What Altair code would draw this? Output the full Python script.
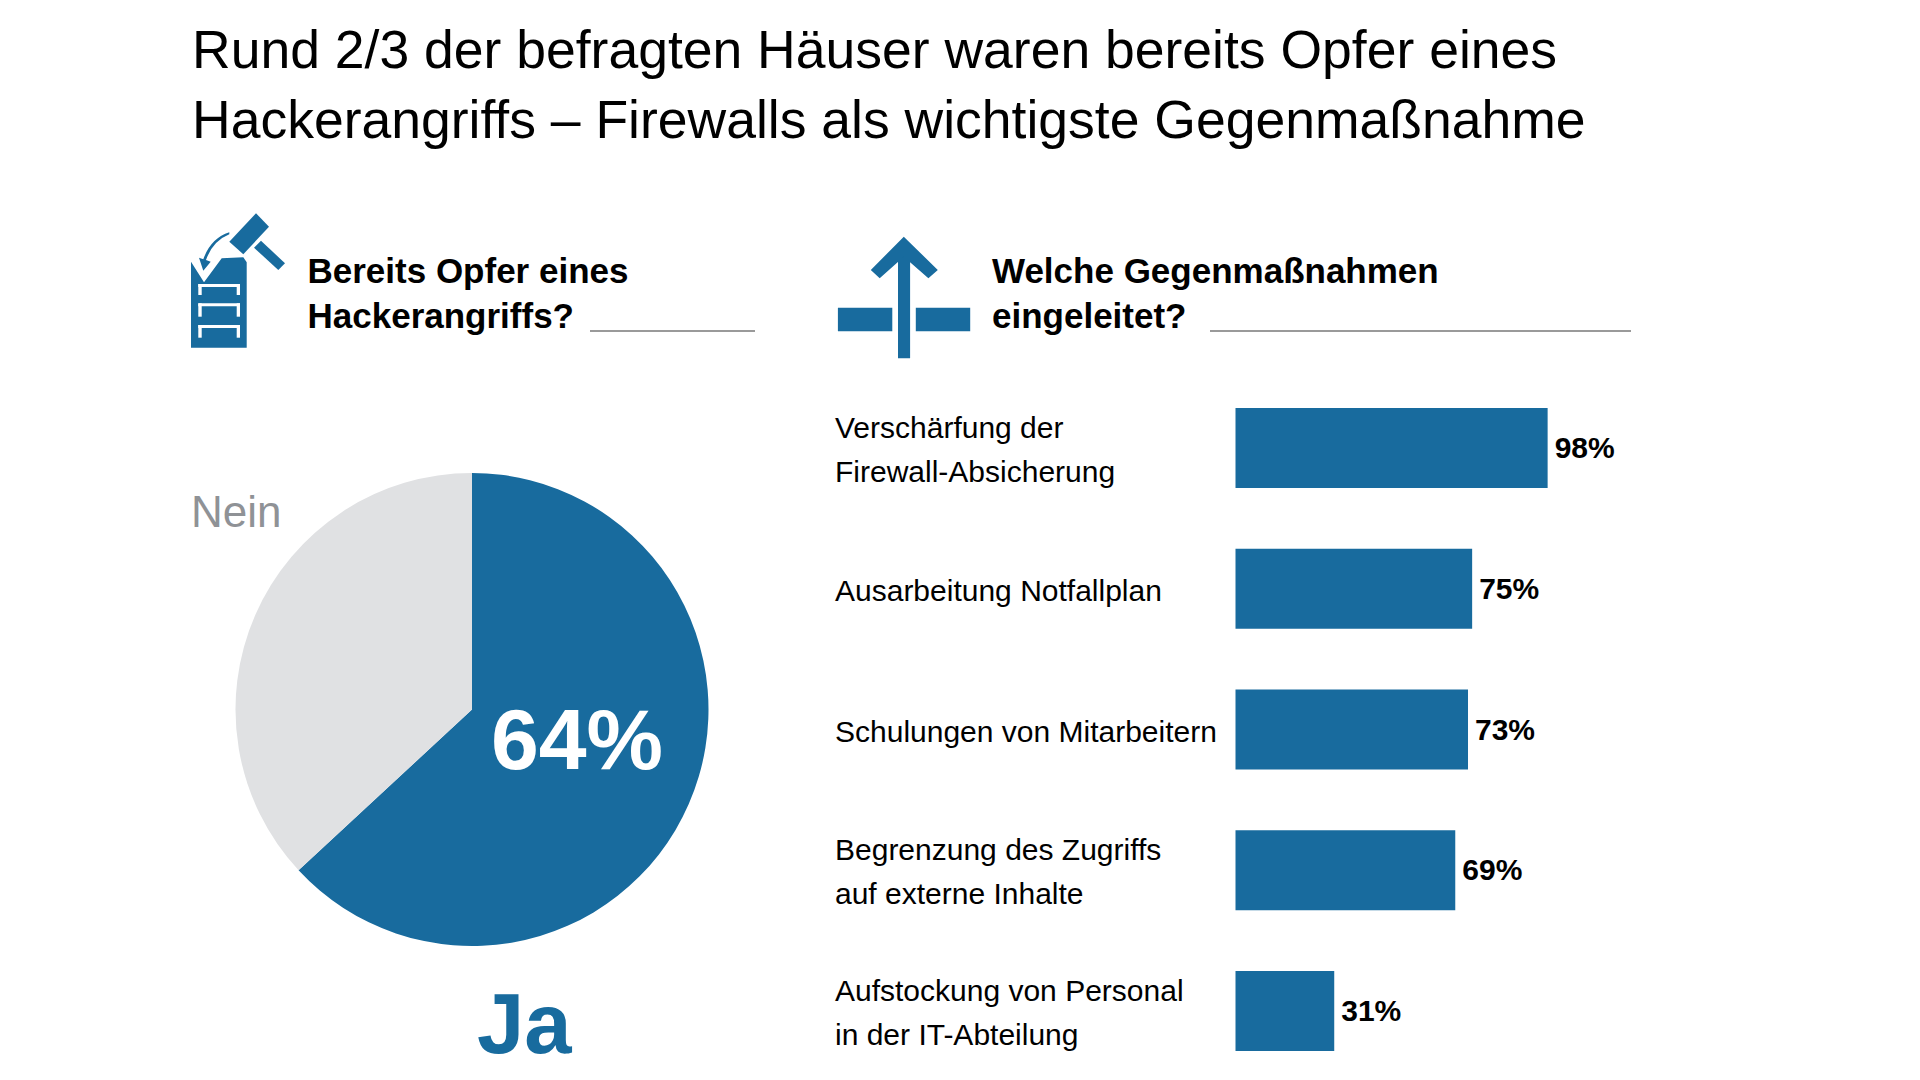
import altair as alt
import pandas as pd

BLUE = "#186B9E"
GREY = "#E0E1E3"
FONT = "Liberation Sans"

title_lines = ["Rund 2/3 der befragten Häuser waren bereits Opfer eines",
               "Hackerangriffs – Firewalls als wichtigste Gegenmaßnahme"]
pie_labels = ["Ja", "Nein"]
pie_values = [63.1, 36.9]
cat_line1 = ["Verschärfung der", "Ausarbeitung Notfallplan", "Schulungen von Mitarbeitern",
             "Begrenzung des Zugriffs", "Aufstockung von Personal"]
cat_line2 = ["Firewall-Absicherung", "", "", "auf externe Inhalte", "in der IT-Abteilung"]
values = [98, 74.3, 73, 69, 31]
value_labels = ["98%", "75%", "73%", "69%", "31%"]
left_head = "Bereits Opfer eines\nHackerangriffs?"
right_head = "Welche Gegenmaßnahmen\neingeleitet?"

M = 8
def text(s, x, y, size, color="black", bold=False, align="left", line=44, baseline="alphabetic"):
    return alt.Chart(pd.DataFrame({"t": [s]})).mark_text(
        font=FONT, fontSize=size, color=color, align=align, baseline=baseline,
        fontWeight="bold" if bold else "normal", lineBreak="\n", lineHeight=line
    ).encode(x=alt.value(x - M), y=alt.value(y - M), text="t:N")

def p(a, b):
    return f"{180 + a / 3:.1f},{205 + b / 3:.1f}"

def pth(pts):
    return "M" + "L".join(p(a, b) for a, b in pts) + "Z"

def pth2(a, b):
    return "M" + "L".join(f"{170 + x / 1.912:.1f},{190 + y / 3:.1f}" for x, y in zip(a, b)) + "Z"

def shape(d, fill=BLUE):
    return alt.Chart(pd.DataFrame({"a": [0]})).mark_point(shape=d, fill=fill, filled=True, size=4, opacity=1).encode(
        x=alt.value(-M), y=alt.value(-M))

arrow = ("M" + p(148, 82) + "Q" + p(92, 100) + " " + p(70, 163) + "L" + p(57, 158) + "L" + p(70, 197)
         + "L" + p(92, 170) + "L" + p(78, 165) + "Q" + p(98, 108) + " " + p(148, 88) + "Z")
icons = [
    pth([(33,170),(72,232),(125,160),(190,157),(200,172),(200,428),(33,428)]),
    pth([(228,25),(267,65),(190,148),(148,110)]),
    pth([(243,107),(315,175),(295,195),(222,128)]),
    arrow,
    pth2([1392,1392,1415,1415], [170,505,505,170]),
    pth2([1403,1468,1450,1403,1357,1340], [140,240,265,200,265,240]),
    pth2([1277,1381,1381,1277], [353,353,424,424]),
    pth2([1426,1530,1530,1426], [353,353,424,424]),
]
ladders = []
for top, bot in [(237, 270), (295, 335), (360, 398)]:
    ladders += [pth([(55,top),(180,top),(180,top+9),(55,top+9)]),
                pth([(55,top),(65,top),(65,bot),(55,bot)]),
                pth([(170,top),(180,top),(180,bot),(170,bot)])]

pie = alt.Chart(pd.DataFrame({"l": pie_labels, "v": pie_values, "o": [0, 1]})).mark_arc(outerRadius=236.5).encode(
    x=alt.value(472 - M), y=alt.value(709.5 - M),
    theta=alt.Theta("v:Q", stack=True, scale=alt.Scale(domain=[0, 100])),
    order=alt.Order("o:Q"),
    color=alt.Color("l:N", legend=None, scale=alt.Scale(domain=pie_labels, range=[BLUE, GREY])),
)

df = pd.DataFrame({"c": cat_line1, "c2": cat_line2, "v": values, "t": value_labels})
xs = alt.Scale(domain=[0, 100], range=[1235.5 - M, 1235.5 + 318.5 - M])
ys = alt.Scale(type="band", domain=cat_line1, range=[408 - M, 1051 - M], paddingInner=0.432, paddingOuter=0)
Y = alt.Y("c:N", scale=ys, axis=None, sort=cat_line1)
bars = alt.Chart(df).mark_bar(color=BLUE, cornerRadius=0).encode(x=alt.X("v:Q", scale=xs, axis=None), y=Y)
vals = alt.Chart(df).mark_text(
    font=FONT, fontSize=30, fontWeight="bold", align="left", baseline="middle", dx=7, dy=1, color="black"
).encode(x=alt.X("v:Q", scale=xs, axis=None), y=Y, text="t:N")
LBL = dict(font=FONT, fontSize=30, align="left", baseline="middle", color="black")
X_L = alt.value(835 - M)
single = alt.Chart(df).transform_filter("datum.c2 == ''").mark_text(dy=3, **LBL).encode(x=X_L, y=Y, text="c:N")
first = alt.Chart(df).transform_filter("datum.c2 != ''").mark_text(dy=-19, **LBL).encode(x=X_L, y=Y, text="c:N")
second = alt.Chart(df).transform_filter("datum.c2 != ''").mark_text(dy=25, **LBL).encode(x=X_L, y=Y, text="c2:N")

def rule(x1, x2, y):
    return alt.Chart(pd.DataFrame({"a": [0]})).mark_rule(color="#9a9a9a", strokeWidth=2).encode(
        x=alt.value(x1 - M), x2=alt.value(x2 - M), y=alt.value(y - M))

layers = [pie, bars, vals, single, first, second,
          text(title_lines[0], 192, 68, 53.5), text(title_lines[1], 192, 138, 53.5),
          text(left_head, 307.5, 283, 35, bold=True, line=45),
          text(right_head, 992, 283, 35, bold=True, line=45),
          rule(590, 755, 331), rule(1210, 1631, 331),
          text("Nein", 191, 527, 44, color="#8f9296"),
          text("64%", 577, 769, 86, color="white", bold=True, align="center"),
          text("Ja", 477, 1053, 85, color=BLUE, bold=True)]
layers += [shape(d) for d in icons] + [shape(d, fill="white") for d in ladders]

chart = alt.layer(*layers).resolve_scale(color="independent").properties(
    width=1904, height=1064, padding=0, autosize=alt.AutoSizeParams(type="none")
).configure_view(stroke=None)
chart.save("out.html", embed_options={"renderer": "svg", "actions": False})
